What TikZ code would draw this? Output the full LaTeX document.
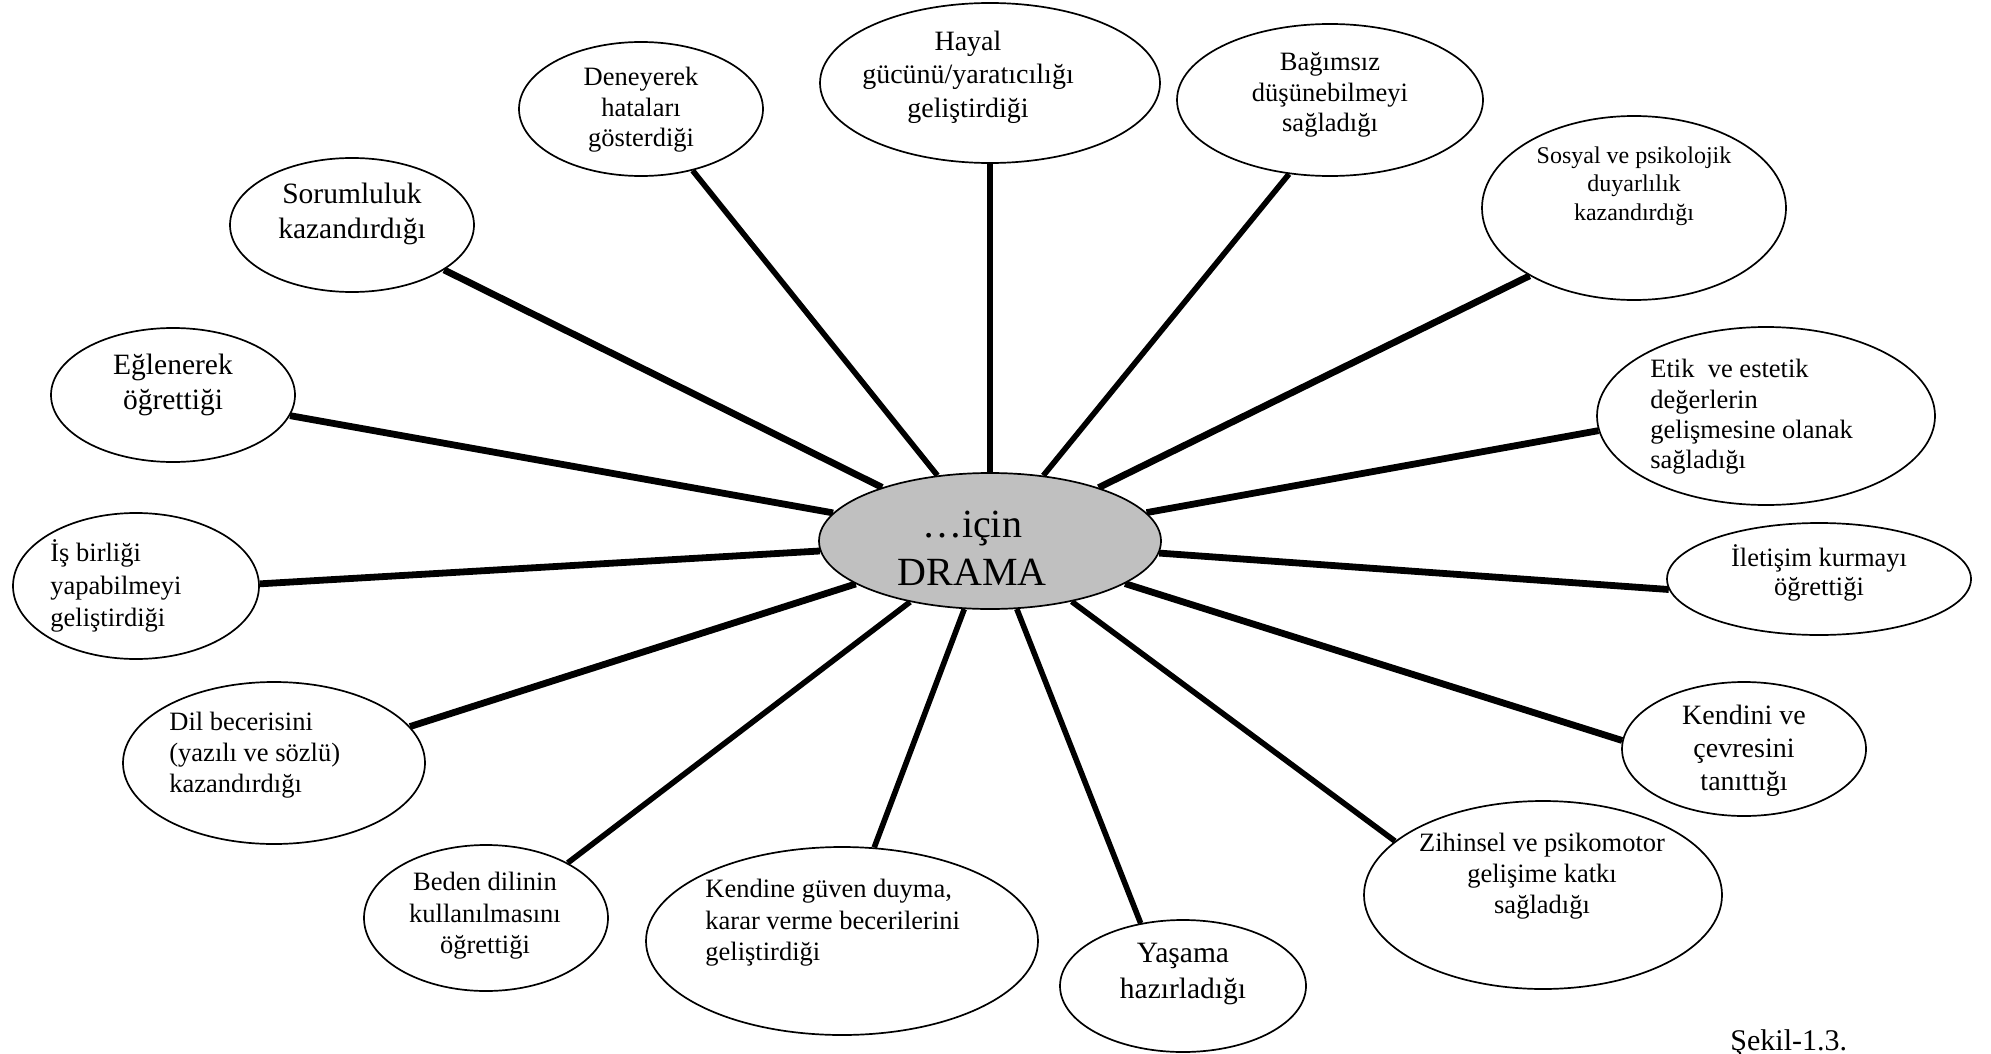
\documentclass[tikz,border=0pt]{standalone}
\usepackage{fontspec}
\setmainfont{Liberation Serif}
\usetikzlibrary{shapes.geometric,backgrounds}
\definecolor{dramagray}{RGB}{192,192,192}
\tikzset{
  bub/.style 2 args={ellipse, draw, line width=0.85pt, fill=white, inner sep=0pt, minimum width=#1pt, minimum height=#2pt},
  tx/.style 2 args={inner sep=0pt, font=\fontsize{#1pt}{#2pt}\selectfont},
  conn/.style={line width=2.8pt},
  connb/.style={line width=3.4pt}
}
\begin{document}
\begin{tikzpicture}[x=0.5pt,y=-0.5pt]
\useasboundingbox (0,0) rectangle (1991,1054);
% bubbles
\node[bub={170}{80}] (hay) at (990,83) {};
\node[bub={122}{67}] (den) at (641,109) {};
\node[bub={122}{67}] (sor) at (352,225) {};
\node[bub={122}{67}] (egl) at (173,395) {};
\node[bub={123}{73}] (isb) at (136,586) {};
\node[bub={151}{81}] (dil) at (274,763) {};
\node[bub={122}{73}] (bed) at (486,918) {};
\node[bub={196}{94}] (kgu) at (842,941) {};
\node[bub={123}{66}] (yas) at (1183,986) {};
\node[bub={179}{94}] (zih) at (1543,895) {};
\node[bub={122}{67}] (ken) at (1744,749) {};
\node[bub={152}{56}] (ile) at (1819,579) {};
\node[bub={169}{89}] (etk) at (1766,416) {};
\node[bub={152}{92}] (sos) at (1634,208) {};
\node[bub={153}{76}] (bag) at (1330,100) {};
\node[bub={171}{68}, fill=dramagray] (drama) at (990,541) {};
% connectors
\begin{scope}[on background layer]
\draw[conn]  (drama) -- (hay.270);
\draw[conn]  (drama) -- (den.310.5);
\draw[connb] (drama) -- (sor.-26.3);
\draw[connb] (drama) -- (egl.-10.2);
\draw[connb] (drama) -- (isb.1.9);
\draw[connb] (drama) -- (dil.15.4);
\draw[conn]  (drama) -- (bed.34.3);
\draw[conn]  (drama) -- (kgu.71.2);
\draw[conn]  (drama) -- (yas.124.1);
\draw[conn]  (drama) -- (zih.160.7);
\draw[connb] (drama) -- (ken.176.3);
\draw[connb] (drama) -- (ile.184.2);
\draw[connb] (drama) -- (etk.185.5);
\draw[connb] (drama) -- (sos.213.2);
\draw[conn]  (drama) -- (bag.241.6);
\end{scope}
% texts
\node[tx={20}{24}, align=center] (t-drama) at (972,548) {…için\\DRAMA};
\node[tx={14}{16.75}, align=center] (t-hay) at (968,77) {Hayal\\gücünü/yaratıcılığı\\geliştirdiği};
\node[tx={13.25}{15.2}, align=center] (t-den) at (641,110) {Deneyerek\\hataları\\gösterdiği};
\node[tx={14.75}{17.75}, align=center] (t-sor) at (352,214) {Sorumluluk\\kazandırdığı};
\node[tx={14.75}{17.75}, align=center] (t-egl) at (173,385) {Eğlenerek\\öğrettiği};
\node[tx={13.25}{16.2}, align=left, anchor=west] (t-isb) at (50,586) {İş birliği\\yapabilmeyi\\geliştirdiği};
\node[tx={13.25}{15.35}, align=left, anchor=west] (t-dil) at (169,755) {Dil becerisini\\(yazılı ve sözlü)\\kazandırdığı};
\node[tx={13.25}{15.75}, align=center] (t-bed) at (485,916) {Beden dilinin\\kullanılmasını\\öğrettiği};
\node[tx={13.25}{15.75}, align=left, anchor=west] (t-kgu) at (705,923) {Kendine güven duyma,\\karar verme becerilerini\\geliştirdiği};
\node[tx={14.75}{17.9}, align=center] (t-yas) at (1183,974) {Yaşama\\hazırladığı};
\node[tx={13.25}{15.35}, align=center] (t-zih) at (1542,876) {Zihinsel ve psikomotor\\gelişime katkı\\sağladığı};
\node[tx={14}{16.5}, align=center] (t-ken) at (1744,751) {Kendini ve\\çevresini\\tanıttığı};
\node[tx={13.25}{14.8}, align=center] (t-ile) at (1819,573) {İletişim kurmayı\\öğrettiği};
\node[tx={13.25}{15.2}, align=left, anchor=west] (t-etk) at (1650,417) {Etik\ \ ve estetik\\değerlerin\\gelişmesine olanak\\sağladığı};
\node[tx={12}{14.35}, align=center] (t-sos) at (1634,186) {Sosyal ve psikolojik\\duyarlılık\\kazandırdığı};
\node[tx={13.25}{15.2}, align=center] (t-bag) at (1330,95) {Bağımsız\\düşünebilmeyi\\sağladığı};
\node[tx={15}{18}, anchor=base west] (sekil) at (1730,1050) {Şekil-1.3.};
\end{tikzpicture}
\end{document}
